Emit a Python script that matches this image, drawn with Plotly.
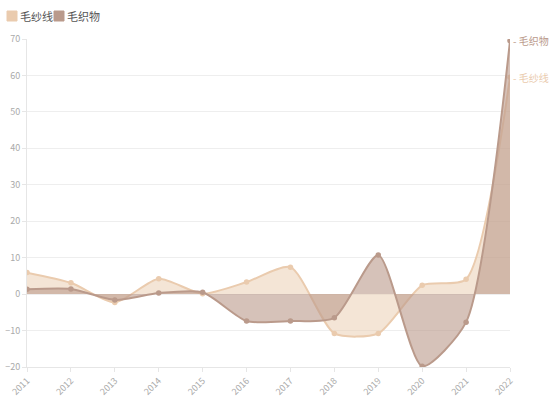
import plotly.graph_objects as go

years = ["2011", "2012", "2013", "2014", "2015", "2016", "2017", "2018", "2019", "2020", "2021", "2022"]
yarn = [5.9, 3.1, -2.3, 4.2, 0.1, 3.3, 7.4, -10.8, -10.8, 2.4, 4.1, 59.5]
fabric = [1.3, 1.4, -1.6, 0.3, 0.5, -7.4, -7.4, -6.5, 10.7, -19.8, -7.7, 69.5]
names = ["毛纱线", "毛织物"]

yarn_color = "#EACBAE"
fabric_color = "#BA9A8B"
fills = ["rgba(234,203,174,0.5)", "rgba(186,154,139,0.6)"]
colors = [yarn_color, fabric_color]
series = [yarn, fabric]

W, H = 554, 398
L, R, T, B = 27, 44, 39, 31
PW, PH = W - L - R, H - T - B

fig = go.Figure()
for vals, nm, col, fc in zip(series, names, colors, fills):
    fig.add_trace(go.Scatter(
        x=years, y=vals, name=nm, mode="lines+markers",
        line=dict(color=col, width=2, shape="spline", smoothing=0.65),
        marker=dict(size=5.5, color=col),
        fill="tozeroy", fillcolor=fc, showlegend=False,
    ))
    fig.add_annotation(xref="paper", x=1, y=vals[-1], text="- " + nm, showarrow=False,
                       xanchor="left", xshift=1, font=dict(size=10, color=col))

# custom legend (rounded swatches) in paper coords
def px_x(p):
    return (p - L) / PW

def px_y(p):
    return 1 - (p - T) / PH

legend_items = [(7, 18), (54, 65)]
for (sx, tx), nm, col in zip(legend_items, names, colors):
    x0, x1 = px_x(sx), px_x(sx + 10)
    y0, y1 = px_y(21), px_y(11)
    fig.add_shape(type="rect", xref="paper", yref="paper", x0=x0, x1=x1, y0=y0, y1=y1,
                  fillcolor=col, line=dict(color=col, width=1))
    fig.add_annotation(xref="paper", yref="paper", x=px_x(tx), y=px_y(16), text=nm,
                       showarrow=False, xanchor="left", yanchor="middle",
                       font=dict(size=11, color="#555"))

fig.update_layout(
    width=W, height=H,
    margin=dict(l=L, r=R, t=T, b=B, autoexpand=False),
    paper_bgcolor="white", plot_bgcolor="white",
    font=dict(family="Noto Sans CJK SC, Noto Sans, sans-serif", color="#999"),
    showlegend=False,
)
fig.update_xaxes(
    type="category", range=[0, 11], showgrid=False, automargin=False,
    showline=True, linecolor="#e6e6e6", ticks="outside", ticklen=4, tickcolor="#e6e6e6",
    tickangle=-45, tickfont=dict(size=9, color="#aaa"), zeroline=False,
)
fig.update_yaxes(
    range=[-20, 70], dtick=10, showgrid=True, gridcolor="#eeeeee", automargin=False,
    showline=True, linecolor="#e6e6e6", ticks="outside", ticklen=4, tickcolor="#e6e6e6",
    tickfont=dict(size=9, color="#aaa"), zeroline=False,
)
fig.write_html("out.html", config={"displayModeBar": False},
               post_script="document.body.style.margin='0';")
